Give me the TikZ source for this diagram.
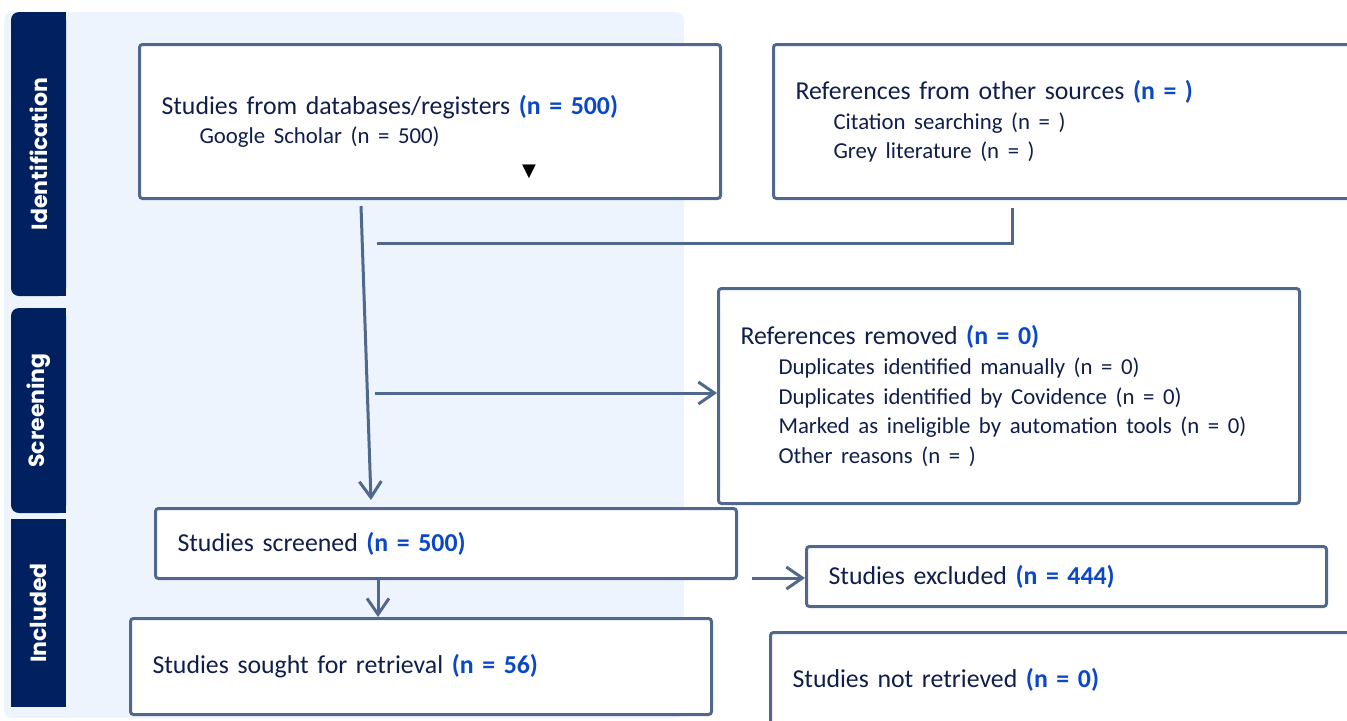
\documentclass[tikz,border=0pt]{standalone}
\usepackage{fontspec}
\setmainfont{Carlito}
\newfontfamily\tabfont{Poppins}
\newfontfamily\symfont{DejaVu Sans}
\usetikzlibrary{arrows.meta,calc}
\definecolor{navy}{HTML}{002060}
\definecolor{boxline}{HTML}{51688D}
\definecolor{inktext}{HTML}{0F1E4B}
\definecolor{nblue}{HTML}{0A47C9}
\definecolor{panel}{HTML}{EDF4FD}
\newcommand{\nval}[1]{\textcolor{nblue}{\textbf{#1}}}
\newcommand{\subline}[1]{\\\hspace*{19pt}{\fontsize{11.4}{14.8}\selectfont #1}}
\begin{document}
\begin{tikzpicture}[x=0.5pt, y=-0.5pt,
    box/.style={draw=boxline, line width=1.5pt, rounded corners=1.5pt, fill=white,
        anchor=north west, align=left, inner xsep=11pt, inner ysep=0pt,
        text=inktext, font=\fontsize{12.9}{14.8}\selectfont},
    tab/.style={text=white, rotate=90, inner sep=0pt,
        font=\tabfont\bfseries\fontsize{11}{11}\selectfont},
    link/.style={draw=boxline, line width=1.5pt},
    arr/.style={link, -{Straight Barb[length=8pt,width=11pt]}}]
    \useasboundingbox (0,0) rectangle (1347,720);
    \fill[panel, rounded corners=4pt] (4,12) rectangle (684,718);

    % phases
    \foreach \ya/\yb/\rc in {12/296/4pt, 308/513/4pt, 519/707/0pt} {
        \fill[navy, rounded corners=\rc] (11,\ya) rectangle (66,\yb);
        \fill[navy] (40,\ya) rectangle (66,\yb);
    }
    \node[tab] (identification) at (38.5,154) {Identification};
    \node[tab] (screening) at (38.5,410.5) {Screening};
    \node[tab] (included) at (38.5,613) {Included};

    % boxes
    \node[box, minimum width=290.5pt, minimum height=77pt, text width=268.5pt] (db) at (138,43)
        {Studies from databases/registers \nval{(n = 500)}\subline{Google Scholar (n = 500)}};
    \node[box, minimum width=296.5pt, minimum height=77pt, text width=274.5pt] (other) at (772,43)
        {References from other sources \nval{(n = )}\subline{Citation searching (n = )}\subline{Grey literature (n = )}};
    \node[box, minimum width=290.5pt, minimum height=107.5pt, text width=268.5pt] (removed) at (717,287)
        {References removed \nval{(n = 0)}\subline{Duplicates identified manually (n = 0)}\subline{Duplicates identified by Covidence (n = 0)}\subline{Marked as ineligible by automation tools (n = 0)}\subline{Other reasons (n = )}};
    \node[box, minimum width=290.5pt, minimum height=35pt, text width=268.5pt] (screened) at (154,507)
        {Studies screened \nval{(n = 500)}};
    \node[box, minimum width=260pt, minimum height=30pt, text width=238pt] (excluded) at (805,545)
        {Studies excluded \nval{(n = 444)}};
    \node[box, minimum width=290.5pt, minimum height=48pt, text width=268.5pt] (sought) at (129,617)
        {Studies sought for retrieval \nval{(n = 56)}};
    \node[box, minimum width=298pt, minimum height=47pt, text width=276pt] (notretrieved) at (769,631)
        {Studies not retrieved \nval{(n = 0)}};
    \node[font=\symfont\fontsize{9}{9}\selectfont, inner sep=0pt] (mark) at (529,172) {▼};

    % connectors
    \coordinate (dbout) at (361,206);
    \coordinate (otherout) at (1012,208);
    \coordinate (join) at (377,243);
    \coordinate (scrfrom) at (375,393);
    \coordinate (exfrom) at (752,578);
    \draw[arr] (dbout) -- ($(screened.north west)+(217,-7)$);
    \draw[link] (otherout) |- (join);
    \draw[arr] (scrfrom) -- (scrfrom -| removed.west);
    \draw[arr] ($(screened.south west)+(224,0)$) -- ($(sought.north west)+(249,0)$);
    \draw[arr] (exfrom) -- (exfrom -| excluded.west);
\end{tikzpicture}
\end{document}
